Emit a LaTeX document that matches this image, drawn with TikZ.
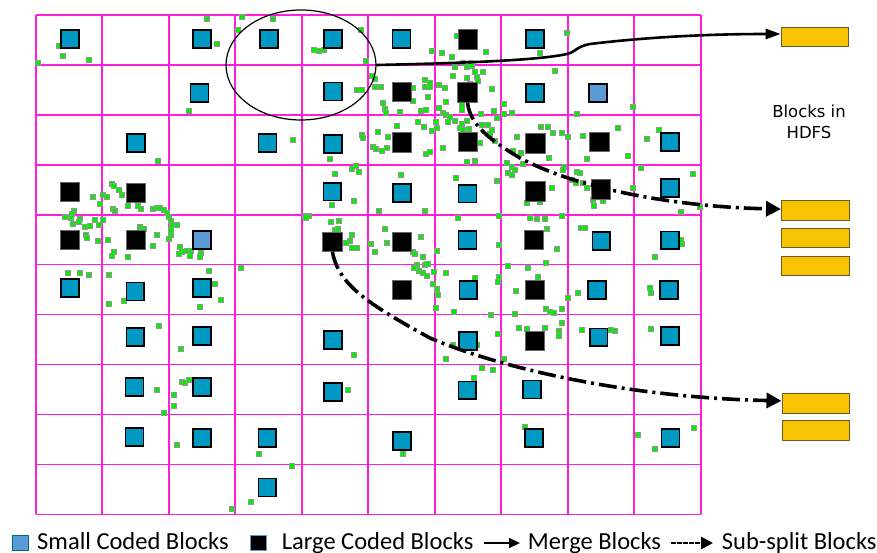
\documentclass[tikz,border=0pt]{standalone}
\usepackage{fontspec}
\newfontfamily\legfont{Carlito}
\newfontfamily\hdfsfont{DejaVu Sans}
\usetikzlibrary{shapes.geometric,arrows.meta,calc}
\definecolor{gridcol}{RGB}{255,30,220}
\definecolor{codedblue}{RGB}{0,153,196}
\definecolor{lightblk}{RGB}{91,155,213}
\definecolor{hdfsfill}{RGB}{248,195,0}
\definecolor{hdfsdraw}{RGB}{110,90,40}
\definecolor{dotgreen}{RGB}{0,240,0}
\definecolor{dotgray}{RGB}{150,150,150}
\begin{document}
\begin{tikzpicture}[x=1pt,y=-1pt,
  gridline/.style={draw=gridcol,line width=1.6},
  gdot/.style={rectangle,draw=dotgray,fill=dotgreen,line width=1.7,minimum size=5,inner sep=0},
  sblock/.style={rectangle,draw=black,fill=codedblue,line width=1.6,minimum size=17.8,inner sep=0},
  lbblock/.style={rectangle,draw=black,fill=lightblk,line width=1.6,minimum size=17.8,inner sep=0},
  lblock/.style={rectangle,draw=black!60,fill=black,line width=0.6,minimum size=19.5,inner sep=0},
  hdfsbox/.style={rectangle,draw=hdfsdraw,fill=hdfsfill,line width=1.1,minimum width=67.5,minimum height=19.8,inner sep=0},
  merge/.style={line width=2.6,-{Triangle[length=15,width=10]}},
  split/.style={line width=3.6,dash pattern=on 18 off 5 on 3 off 5,-{Triangle[length=15,width=15]}},
  legtext/.style={anchor=base west,inner sep=0,font=\legfont\fontsize{24.5}{28}\selectfont},
  legsq/.style={rectangle,minimum width=16,minimum height=15,inner sep=0,line width=0.8}]
\useasboundingbox (0,0) rectangle (877,553);
% grid
\foreach \i in {0,...,10} \draw[gridline] (35.7+66.5*\i,15) -- (35.7+66.5*\i,514.3);
\foreach \j in {0,...,10} \draw[gridline] (35.7,15+49.93*\j) -- (700.7,15+49.93*\j);
% dots
\foreach \x/\y [count=\k] in {207/19,242/17,273/19,238/30,217/44,59/46,63/56,89/60,38/63,
 314/50,319/51,324/50,361/30,366/61,432/51,442/53,452/57,486/52,457/36,540/53,567/33,
 372/76,375/79,375/87,381/87,357/90,362/90,
 383/103,385/109,386/113,400/112,413/101,413/88,
 425/80,430/83,425/87,430/87,428/97,421/111,426/110,439/108,
 439/85,445/88,446/102,443/113,446/115,450/117,
 455/67,453/76,463/63,471/63,467/67,472/66,475/72,483/72,467/78,477/77,478/81,470/84,
 462/105,462/110,492/89,555/71,481/114,494/111,504/104,504/114,512/113,497/118,
 488/125,492/130,490/134,482/125,418/122,424/127,432/131,437/128,436/122,448/122,455/121,462/124,460/128,463/130,469/129,467/121,443/148,
 189/111,397/126,378/132,388/137,362/135,363/138,373/147,376/149,382/151,387/148,426/154,430/152,480/143,495/141,517/137,513/151,521/153,
 541/127,548/127,553/133,562/133,568/137,549/158,577/114,583/136,618/128,633/107,647/139,659/130,587/159,628/156,
 293/140,330/159,158/161,335/174,352/169,356/166,359/172,401/175,467/162,475/161,507/163,512/167,515/170,508/173,512/175,523/164,497/181,456/178,
 564/167,563/170,577/172,580/173,572/180,576/183,583/183,587/188,552/188,593/200,603/201,594/206,527/203,540/202,633/188,641/168,693/174,681/212,700/207,
 354/201,332/205,379/211,425/211,458/218,499/216,530/218,537/219,545/219,562/216,547/229,581/228,585/228,
 112/184,114/186,119/190,122/195,93/197,103/195,107/197,100/204,113/209,115/211,128/206,138/206,141/209,
 153/209,157/208,160/208,164/210,167/213,169/217,171/221,172/225,171/230,171/235,169/239,177/225,
 74/211,72/214,65/217,71/218,80/219,79/222,73/224,85/227,90/226,99/225,95/220,103/220,140/227,144/229,157/235,86/235,87/238,98/241,108/240,153/246,114/252,112/256,128/257,180/247,182/252,187/251,191/251,201/253,200/257,190/256,179/254,209/271,241/268,
 305/216,309/216,306/218,331/222,339/221,335/230,338/229,352/235,350/241,346/243,352/248,357/248,371/244,375/252,385/229,387/243,421/237,413/252,415/254,423/257,427/264,437/251,499/245,557/249,682/244,681/240,655/257,
 417/265,414/268,419/271,425/265,428/264,423/273,427/276,434/272,446/273,475/278,499/277,498/282,508/266,528/268,538/277,546/263,
 68/273,80/273,89/275,109/275,215/284,221/300,200/307,109/304,124/301,159/326,181/349,354/355,157/390,182/382,185/383,189/380,174/395,174/406,164/413,348/390,177/445,259/454,292/466,251/502,232/509,403/454,
 433/284,437/289,438/295,436/308,454/312,516/291,491/315,515/314,568/298,578/293,546/309,550/312,554/313,562/309,562/323,650/288,651/293,519/328,527/329,545/328,559/331,559/336,582/330,611/330,615/331,651/329,498/334,453/345,477/345,446/359,504/359,482/368,493/370,474/378,525/427,638/435,655/449,694/428}
  \node[gdot] (d\k) at (\x,\y) {};
% small coded blocks
\foreach \x/\y [count=\k] in {70/39,202/39,269/39,333/39,401.5/39,535/39,
 199.5/93,333/91.5,535/93,
 136/143,267.5/143,333/144,670/142,
 332.3/191.7,401.8/193,467.5/193.8,670/188,
 467.5/240,601.3/241,670/240.3,
 70/288,135.3/291.5,202/288,468.3/290,597/290,669/290,
 135.3/336.8,202/336,333/340,468/340.8,598.7/337.3,670/336,
 134.5/387,202/387,333/392,467.3/390.3,532/389.5,
 134.5/436.8,202/438,267.2/438,401.8/440.8,534/438,670.5/438,
 267.2/487.5}
  \node[sblock] (s\k) at (\x,\y) {};
\node[lbblock] (lb1) at (202,240) {};
\node[lbblock] (lb2) at (598,93) {};
% large coded blocks
\foreach \x/\y [count=\k] in {468/39.5,401.8/92,401.8/142.3,467.7/142,535.3/143.5,599.5/142,
 70/191.7,135.8/192.8,535.5/191.3,601/189.5,70/239.8,135.8/239.8,401.8/241.7,534/240,
 401.8/290,535/290,535/340.8}
  \node[lblock] (l\k) at (\x,\y) {};
\node[lblock] (src1) at (467.5,92.5) {};
\node[lblock] (src2) at (332.5,241.7) {};
% ellipse
\node[draw,ellipse,line width=1.2,minimum width=150,minimum height=110,inner sep=0] (E) at (301,65) {};
% HDFS blocks
\node[hdfsbox] (h1) at (815,37) {};
\node[hdfsbox] (h2) at (815.3,210.6) {};
\node[hdfsbox] (h3) at (815.3,238) {};
\node[hdfsbox] (h4) at (815.3,266) {};
\node[hdfsbox] (h5) at (815.8,403.8) {};
\node[hdfsbox] (h6) at (815.8,430.8) {};
\node[font=\hdfsfont\fontsize{16.5}{21.3}\selectfont,align=center,inner sep=0] (lbl) at (809,122) {Blocks in\\HDFS};
% connectors
\draw[merge] (E.east) .. controls (470,63) and (540,60) .. (567,54) .. controls (576,52) and (575,47) .. (590,44) .. controls (640,38) and (700,34) .. ($(h1.west)+(0,-3)$);
\draw[split] (src1.south) .. controls (470,125) and (490,140) .. (520,158) .. controls (580,190) and (680,207) .. ($(h2.west)+(0,-1.5)$);
\draw[split] (src2.south) .. controls (338,285) and (370,305) .. (430,338) .. controls (510,372) and (640,398) .. ($(h5.west)+(0,-3)$);
% legend
\node[legsq,fill=lightblk,draw=codedblue!70!black] (k1) at (20.8,543) {};
\node[legtext] (t1) at (37,549.5) {Small Coded Blocks};
\node[legsq,fill=black,draw=lightblk] (k2) at (258.5,543) {};
\node[legtext] (t2) at (281.7,549.5) {Large Coded Blocks};
\coordinate (m1) at (484,543);
\coordinate (m2) at (520,543);
\draw[line width=2,-{Triangle[length=11,width=10]}] (m1) -- (m2);
\node[legtext] (t3) at (527.7,549.5) {Merge Blocks};
\coordinate (n1) at (670.7,543);
\coordinate (n2) at (713,543);
\draw[line width=2.8,dash pattern=on 5 off 1,-{Triangle[length=12,width=12]}] (n1) -- (n2);
\node[legtext] (t4) at (721.7,549.5) {Sub-split Blocks};
\end{tikzpicture}
\end{document}
